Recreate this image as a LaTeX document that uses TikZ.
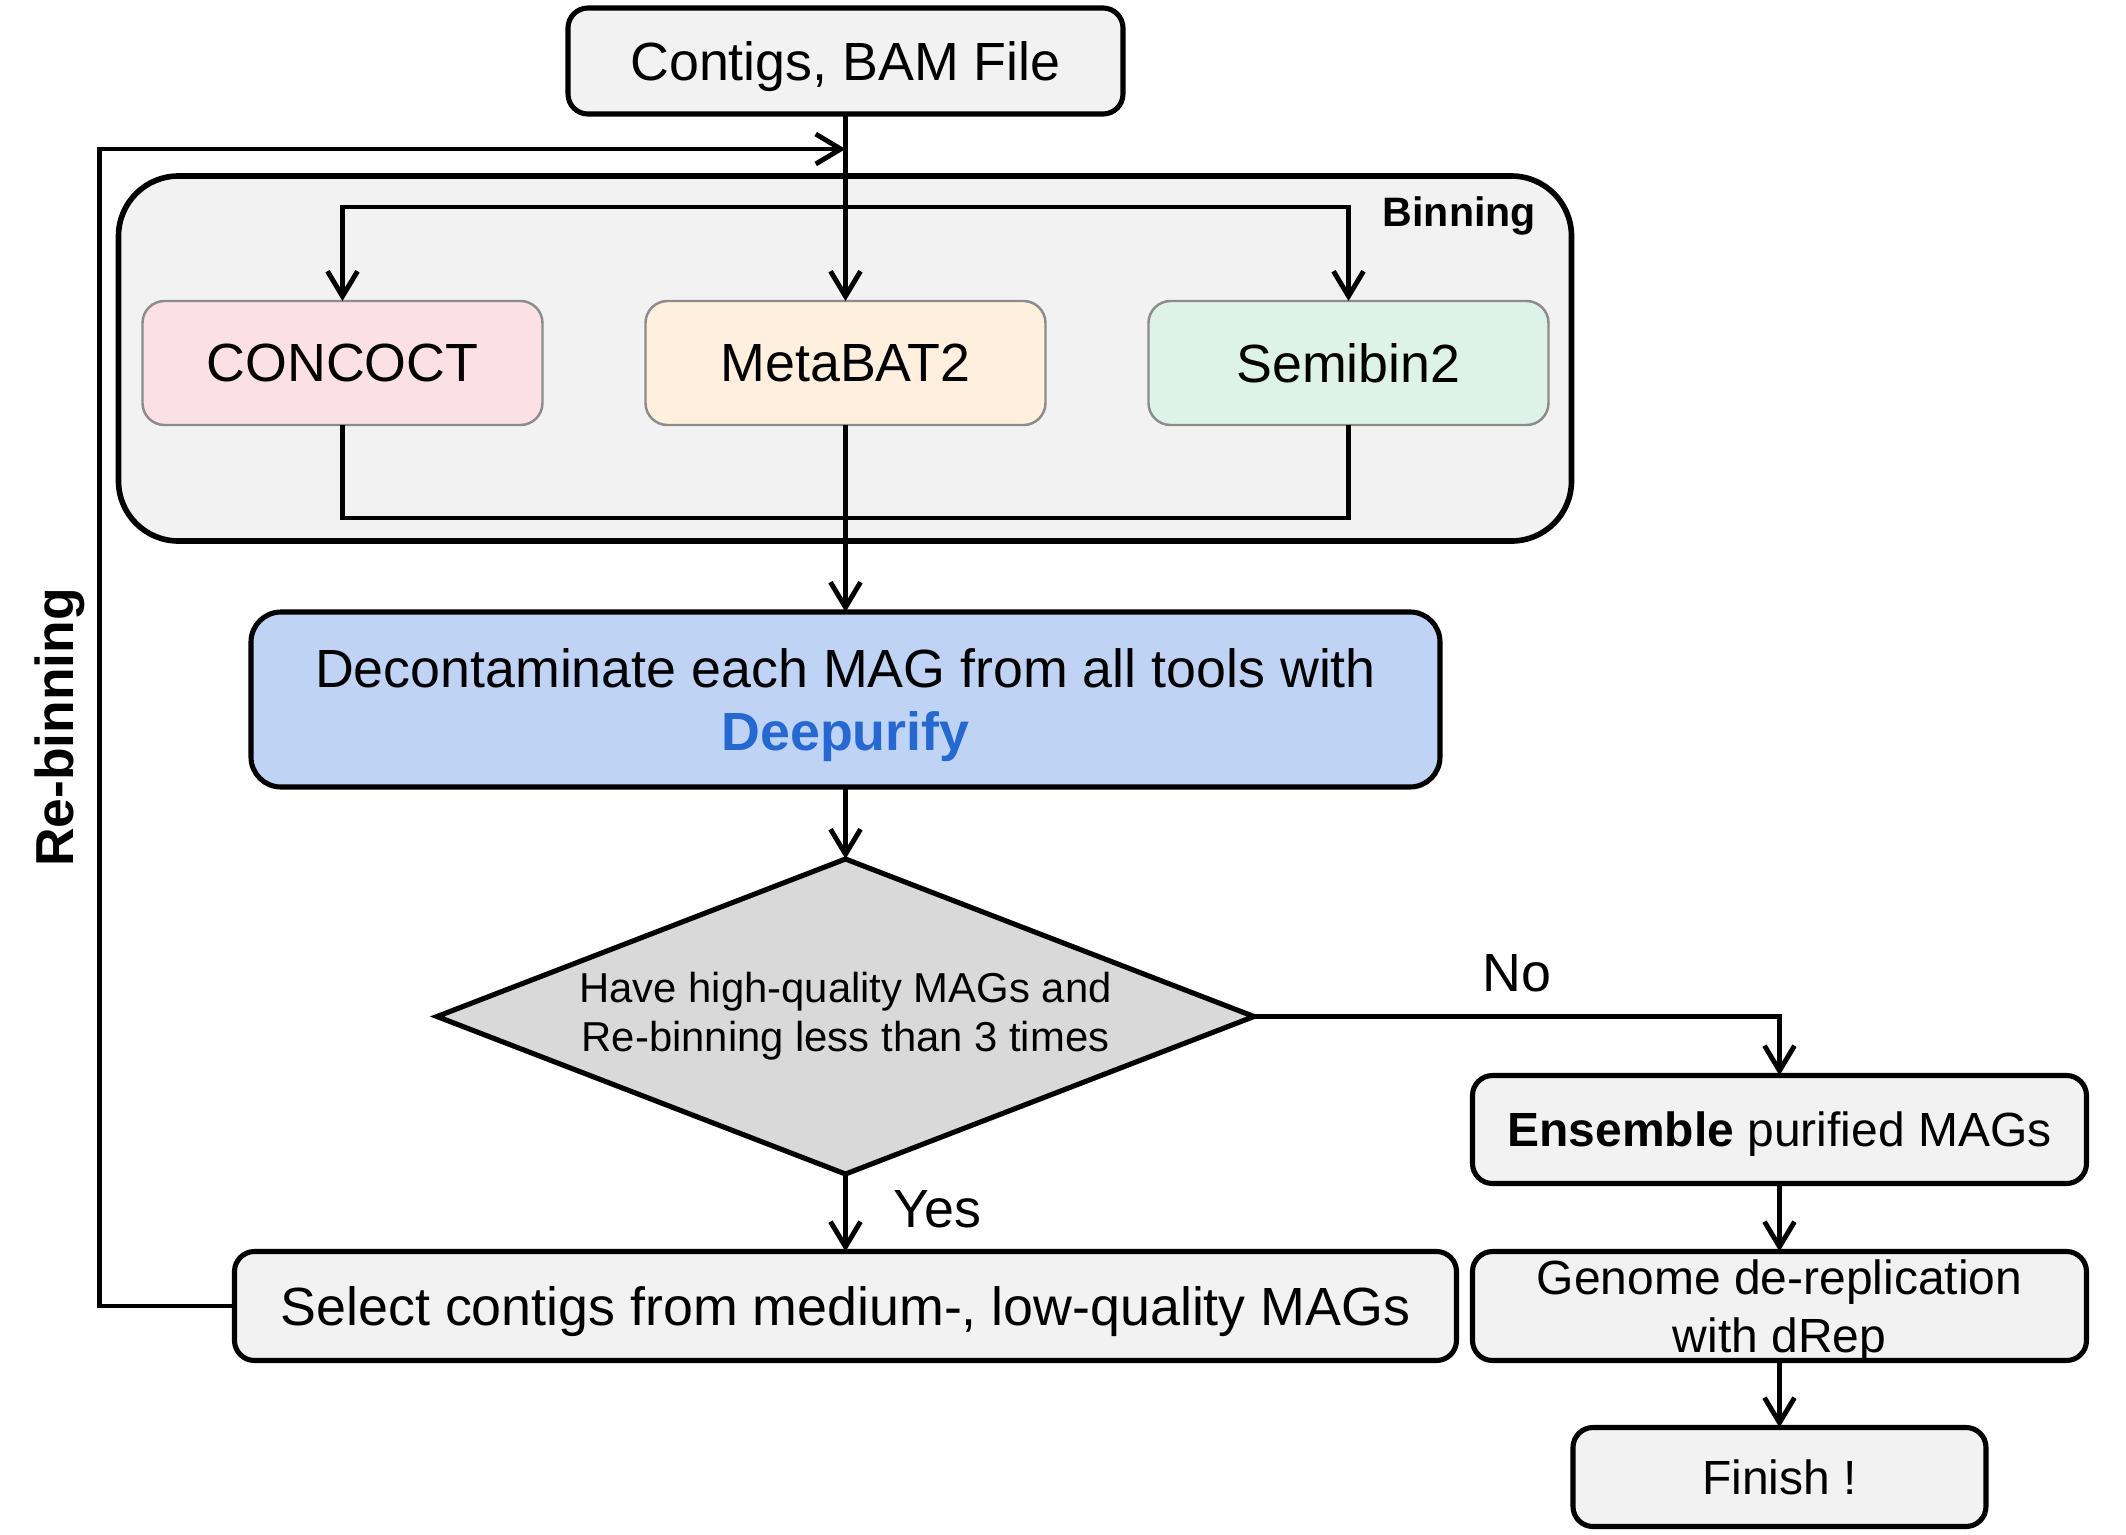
\documentclass[tikz,border=0pt]{standalone}
\usepackage{fontspec}
\setmainfont{Liberation Sans}
\usetikzlibrary{positioning,shapes.geometric,arrows.meta,fit,backgrounds}

\definecolor{boxgray}{HTML}{F2F2F2}
\definecolor{decgray}{HTML}{D9D9D9}
\definecolor{toolline}{HTML}{8C8C8C}
\definecolor{concoctpink}{HTML}{FBE0E5}
\definecolor{metabatcream}{HTML}{FFF0DE}
\definecolor{semibingreen}{HTML}{DDF3EA}
\definecolor{purifyblue}{HTML}{BFD4F4}
\definecolor{purifytext}{HTML}{2368D3}

\begin{document}
\begin{tikzpicture}[
  outer sep=0pt,
  mainfont/.style={font=\fontsize{15.3}{18}\selectfont},
  sidefont/.style={font=\fontsize{13.65}{16.7}\selectfont},
  box/.style={draw, line width=1.45pt, rounded corners=0.2cm, fill=boxgray, align=center, inner sep=0pt, text depth=0pt},
  tool/.style={draw=toolline, line width=0.7pt, rounded corners=0.22cm, minimum width=4cm, minimum height=1.24cm, mainfont},
  binbox/.style={draw, line width=1.6pt, rounded corners=0.6cm, fill=boxgray, inner sep=0pt},
  decision/.style={diamond, draw, line width=1.45pt, fill=decgray, aspect=2.594, minimum width=8.17cm, minimum height=3.15cm, inner sep=0pt, align=center, font=\fontsize{11.9}{13.9}\selectfont},
  line/.style={draw, line width=1.4pt},
  flow/.style={line, -{Straight Barb[length=2.5mm,width=3mm]}}
]
  \useasboundingbox (0,0) rectangle (21.26,-15.35);

  % Input
  \node[box, mainfont, minimum width=5.55cm, minimum height=1.06cm] (contigs) at (8.455,-0.61) {Contigs, BAM File} ;

  % Binning tools
  \node[tool, fill=metabatcream, below=1.87cm of contigs] (metabat) {MetaBAT2} ;
  \node[tool, fill=concoctpink, left=1.03cm of metabat] (concoct) {CONCOCT} ;
  \node[tool, fill=semibingreen, right=1.03cm of metabat] (semibin) {Semibin2} ;

  \begin{scope}[on background layer]
    \node[binbox, fit={([shift={(-0.24,1.25)}]concoct.north west) ([shift={(0.23,-1.16)}]semibin.south east)}] (binning) {} ;
  \end{scope}
  \node[anchor=base east, font=\fontsize{11.7}{14}\selectfont\bfseries] (binlabel) at ([xshift=-0.24cm, yshift=-0.5cm]binning.north east) {Binning} ;

  % Purification and decision
  \node[box, mainfont, fill=purifyblue, rounded corners=0.3cm, minimum width=11.89cm, minimum height=1.75cm, below=1.87cm of metabat,
        font=\fontsize{15.3}{17.9}\selectfont] (decontam) {Decontaminate each MAG from all tools with\\ \textcolor{purifytext}{\bfseries Deepurify}} ;
  \node[decision, below=0.72cm of decontam] (check) {Have high-quality MAGs and\\ Re-binning less than 3 times} ;
  \node[box, mainfont, minimum width=12.22cm, minimum height=1.09cm, below=0.775cm of check] (select) {Select contigs from medium-, low-quality MAGs} ;

  % Output branch
  \node[box, sidefont, minimum width=6.14cm, minimum height=1.09cm, right=0.16cm of select] (genome) {Genome de-replication\\ with dRep} ;
  \node[box, sidefont, minimum width=6.14cm, minimum height=1.08cm, above=0.68cm of genome] (ensemble) {\textbf{Ensemble} purified MAGs} ;
  \node[box, sidefont, minimum width=4.13cm, minimum height=0.99cm, below=0.67cm of genome] (finish) {Finish !} ;

  \node[rotate=90, mainfont, font=\fontsize{15.2}{18}\selectfont\bfseries] (rebin) at (0.60,-7.275) {Re-binning} ;

  % Connect the nodes
  \coordinate (split) at (metabat.north |- 0,-2.07) ;
  \coordinate (merge) at (metabat.south |- 0,-5.18) ;
  \coordinate (loopc) at (0.995,-1.49) ;
  \coordinate (loopend) at (contigs.south |- loopc) ;

  \draw[flow] (contigs) -- (metabat) ;
  \draw[flow] (split) -| (concoct) ;
  \draw[flow] (split) -| (semibin) ;
  \draw[line] (concoct) |- (merge) -| (semibin) ;
  \draw[flow] (metabat) -- (decontam) ;
  \draw[flow] (decontam) -- (check) ;
  \draw[flow] (check) -- node[right=0.36cm, yshift=1pt, mainfont] (yes) {Yes} (select) ;
  \draw[flow] (check.east) -| node[pos=0.25, above=3.5pt, mainfont] (no) {No} (ensemble) ;
  \draw[flow] (ensemble) -- (genome) ;
  \draw[flow] (genome) -- (finish) ;
  \draw[flow] (select.west) -| (loopc) -- (loopend) ;
\end{tikzpicture}
\end{document}
